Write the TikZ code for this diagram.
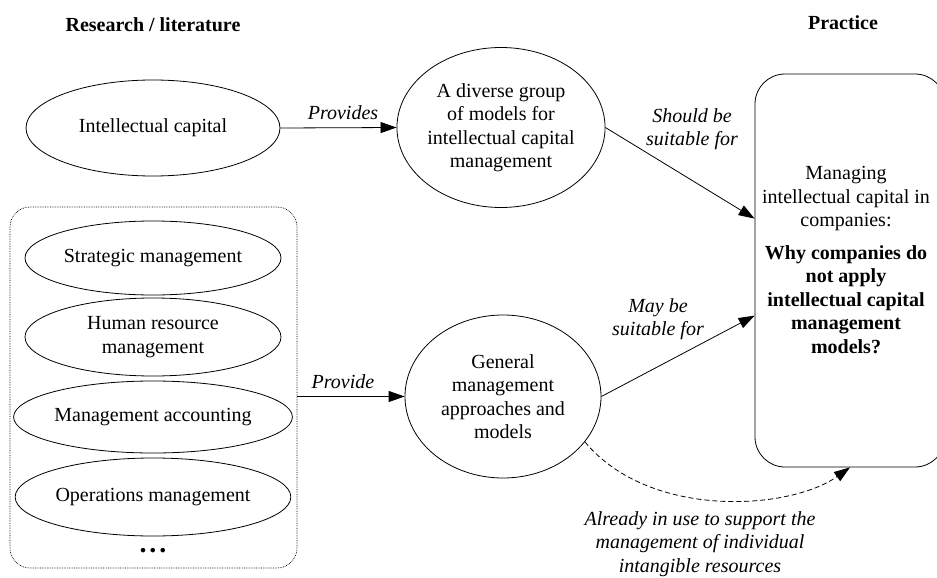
\documentclass[tikz,border=0pt]{standalone}
\usepackage{fontspec}
\setmainfont{Liberation Serif}
\usetikzlibrary{shapes.geometric,arrows.meta,calc}

\begin{document}
\begin{tikzpicture}[x=1pt,y=-1pt,
  font=\fontsize{20}{23.5}\selectfont,
  line width=0.8pt,
  oval/.style={draw,ellipse,inner sep=0pt,align=center},
  heading/.style={font=\fontsize{20}{23.5}\selectfont\bfseries},
  edgelabel/.style={font=\fontsize{20}{23.5}\selectfont\itshape,align=center},
  link/.style={-{Triangle[length=16pt,width=11pt]}},
  every node/.style={inner sep=0pt}]

\useasboundingbox (0,0) rectangle (937,578);

% column headings
\node[heading] (res) at (153,25) {Research / literature};
\node[heading] (prac) at (843,23) {Practice};

% research side
\node[oval,minimum width=254pt,minimum height=96pt] (ic) at (153,128) {Intellectual capital};

\node[draw,densely dotted,line width=0.7pt,rounded corners=20pt,minimum width=287pt,minimum height=361pt] (grp) at (153.5,387.5) {};
\node[oval,minimum width=256pt,minimum height=74pt] (sm) at (153,258) {Strategic management};
\node[oval,minimum width=256pt,minimum height=78pt] (hr) at (153,337) {Human resource\\management};
\node[oval,minimum width=256pt,minimum height=72pt] (ma) at (153,417) {Management accounting};
\node[oval,minimum width=256pt,minimum height=78pt] (om) at (153,497) {Operations management};
\node[font=\fontsize{28}{28}\selectfont\bfseries] (dots) at (153,551) {.\hspace{3pt}.\hspace{3pt}.};

% model groups
\node[oval,minimum width=190pt,minimum height=160pt] (mdl) at (501,127.5)
  {A diverse group\\of models for\\intellectual capital\\management};
\node[oval,minimum width=196pt,minimum height=163pt] (gen) at (503,396.5)
  {General\\management\\approaches and\\models};

% practice box
\node[draw,rounded corners=30pt,minimum width=190pt,minimum height=393pt] (prt) at (850,270.5) {};
\node[align=center] (prtxt) at (846,260)
  {Managing\\intellectual capital in\\companies:\\[9pt]
   \textbf{Why companies do}\\\textbf{not apply}\\\textbf{intellectual capital}\\\textbf{management}\\\textbf{models?}};

\coordinate (inA) at ($(prt.north west)+(0,145)$);
\coordinate (inB) at ($(prt.north west)+(0,242)$);

% connectors
\draw[link] (ic.east) -- (mdl.west);
\node[edgelabel] (lprov) at (343,113) {Provides};

\draw[link] (grp.east |- gen.west) -- (gen.west);
\node[edgelabel] (lprov2) at (343,382) {Provide};

\draw[link] (mdl.east) -- (inA);
\node[edgelabel] (lshould) at (692,129) {Should be\\suitable for};

\draw[link] (gen.east) -- (inB);
\node[edgelabel] (lmay) at (658,319) {May be\\suitable for};

\draw[link,dash pattern=on 5pt off 3pt] (gen.-29) .. controls (650,520) and (790,510) .. (prt.south);
\node[edgelabel] (luse) at (700,544)
  {Already in use to support the\\management of individual\\intangible resources};

\end{tikzpicture}
\end{document}
